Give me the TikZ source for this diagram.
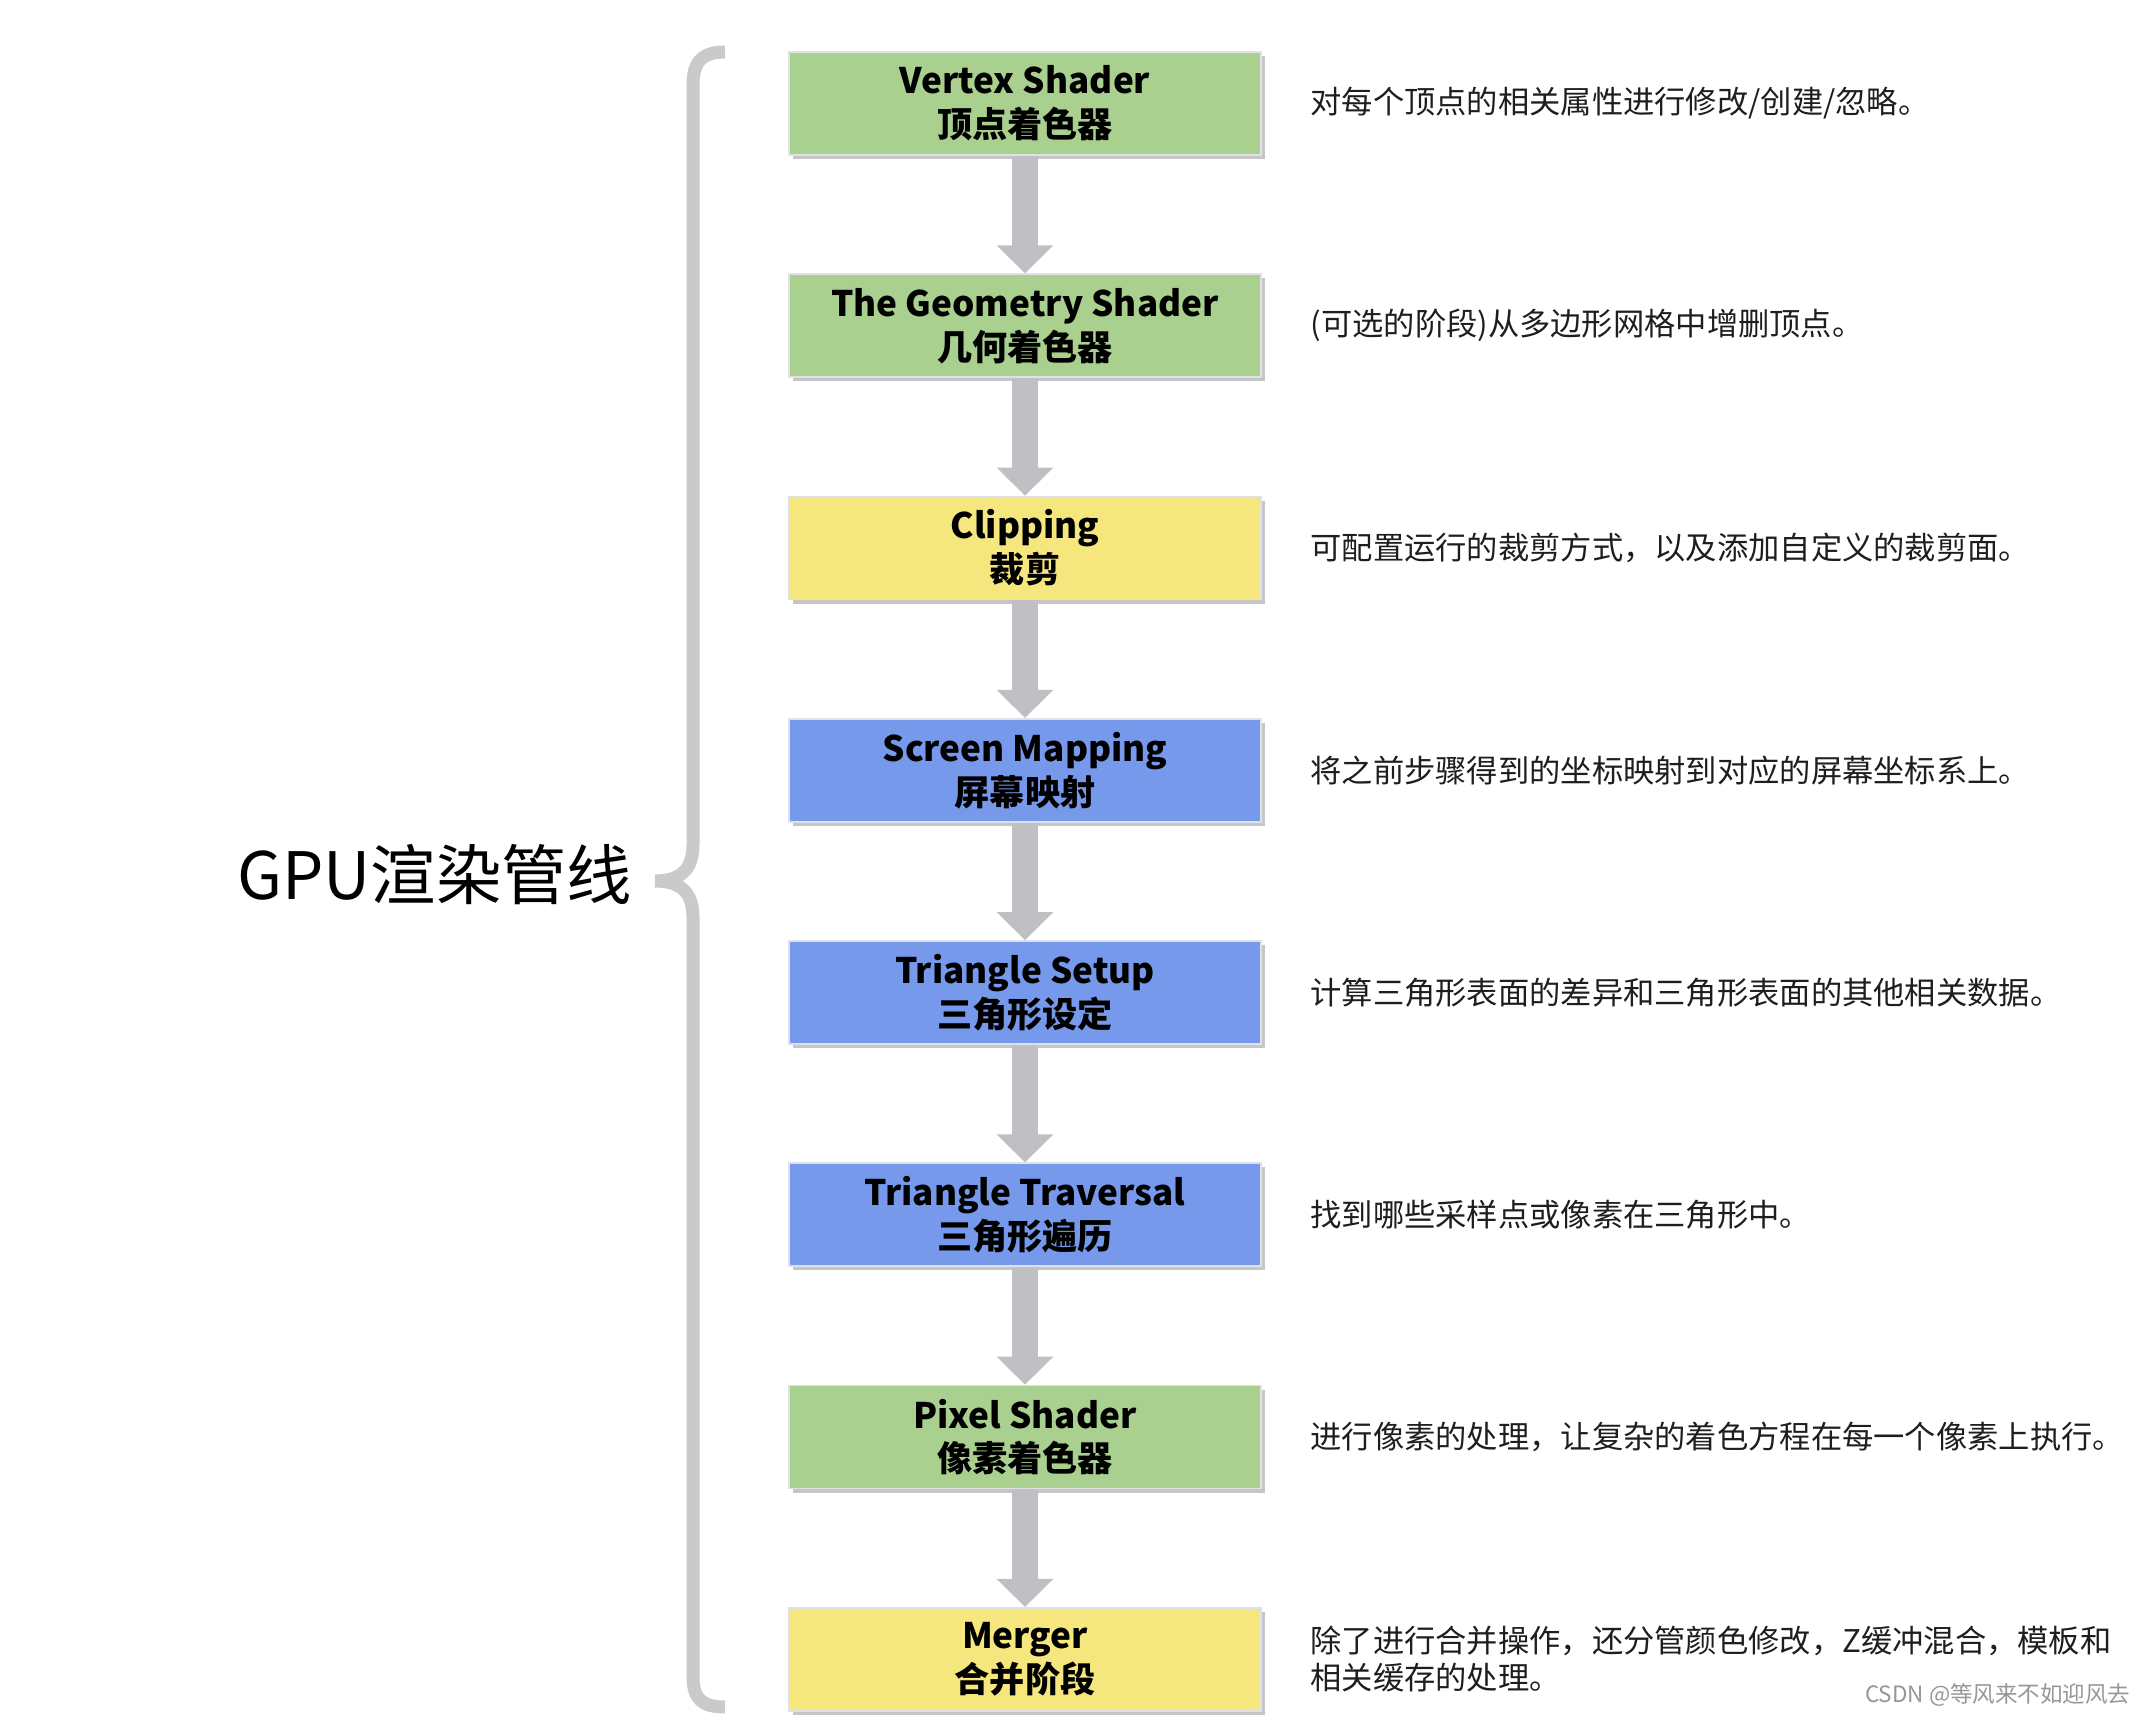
\documentclass[tikz,border=0pt]{standalone}
\usepackage{fontspec}
\setmainfont{Noto Sans CJK SC}
\usetikzlibrary{arrows.meta,positioning,shadows}

\definecolor{stagegreen}{RGB}{169,208,142}
\definecolor{stageyellow}{RGB}{245,230,125}
\definecolor{stageblue}{RGB}{118,153,236}
\definecolor{flowgray}{RGB}{192,192,196}
\definecolor{bracegray}{RGB}{202,202,202}

\begin{document}
\begin{tikzpicture}[
  stage/.style={draw={rgb,255:red,222;green,226;blue,232},line width=0.5pt,minimum width=4.72cm,minimum height=1.03cm,inner sep=0pt,align=center,
    font=\fontsize{10pt}{12.5pt}\selectfont\bfseries,
    drop shadow={shadow xshift=0.04cm,shadow yshift=-0.04cm,opacity=0.45,fill=gray}},
  note/.style={inner sep=0pt,align=left,text={rgb,255:red,30;green,30;blue,30},font=\fontsize{8.9pt}{10.6pt}\selectfont},
  flow/.style={draw=flowgray,line width=0.26cm,-{Triangle[width=0.55cm,length=0.28cm]}},
  node distance=1.175cm
]
\useasboundingbox (0,0) rectangle (21.47,-17.14);

\node[stage,fill=stagegreen] (vs) at (10.25,-1.035) {Vertex Shader\\顶点着色器};
\node[stage,fill=stagegreen,below=of vs] (gs) {The Geometry Shader\\几何着色器};
\node[stage,fill=stageyellow,below=of gs] (clip) {Clipping\\裁剪};
\node[stage,fill=stageblue,below=of clip] (sm) {Screen Mapping\\屏幕映射};
\node[stage,fill=stageblue,below=of sm] (ts) {Triangle Setup\\三角形设定};
\node[stage,fill=stageblue,below=of ts] (tt) {Triangle Traversal\\三角形遍历};
\node[stage,fill=stagegreen,below=of tt] (ps) {Pixel Shader\\像素着色器};
\node[stage,fill=stageyellow,below=of ps] (mg) {Merger\\合并阶段};

\foreach \a/\b in {vs/gs,gs/clip,clip/sm,sm/ts,ts/tt,tt/ps,ps/mg}
  \draw[flow] (\a) -- (\b);

\node[note,right=0.48cm of vs] (dvs) {对每个顶点的相关属性进行修改/创建/忽略。};
\node[note,right=0.48cm of gs] (dgs) {(可选的阶段)从多边形网格中增删顶点。};
\node[note,right=0.48cm of clip] (dclip) {可配置运行的裁剪方式，以及添加自定义的裁剪面。};
\node[note,right=0.48cm of sm] (dsm) {将之前步骤得到的坐标映射到对应的屏幕坐标系上。};
\node[note,right=0.48cm of ts] (dts) {计算三角形表面的差异和三角形表面的其他相关数据。};
\node[note,right=0.48cm of tt] (dtt) {找到哪些采样点或像素在三角形中。};
\node[note,right=0.48cm of ps] (dps) {进行像素的处理，让复杂的着色方程在每一个像素上执行。};
\node[note,right=0.48cm of mg] (dmg) {除了进行合并操作，还分管颜色修改，Z缓冲混合，模板和\\相关缓存的处理。};

\coordinate (tip) at (6.55,-8.81);
\draw[bracegray,line width=0.13cm] (7.25,-0.52) .. controls (7.02,-0.52) and (6.93,-0.62) .. (6.93,-0.85)
  -- (6.93,-8.45) .. controls (6.93,-8.70) and (6.80,-8.81) .. (tip)
  .. controls (6.80,-8.81) and (6.93,-8.92) .. (6.93,-9.17)
  -- (6.93,-16.76) .. controls (6.93,-16.99) and (7.02,-17.07) .. (7.25,-17.07);
\node[anchor=east,inner sep=0pt,font=\fontsize{18.6pt}{20pt}\selectfont] (gpu) at ([xshift=-0.22cm,yshift=0.06cm]tip) {GPU渲染管线};

\node[anchor=east,inner sep=0pt,text={rgb,255:red,150;green,150;blue,150},font=\fontsize{6.4pt}{7pt}\selectfont] (mark) at (21.31,-16.95) {CSDN @等风来不如迎风去};
\end{tikzpicture}
\end{document}
